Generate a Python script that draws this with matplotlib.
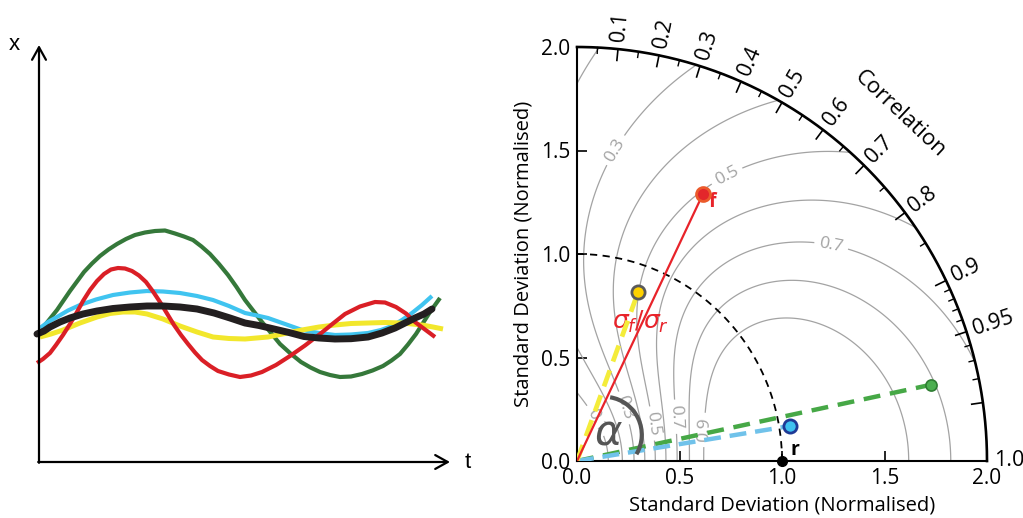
import numpy as np
import matplotlib
matplotlib.use('Agg')
import matplotlib.pyplot as plt
from matplotlib.patches import Arc

plt.rcParams['font.family'] = ['Open Sans', 'DejaVu Sans']
plt.rcParams['mathtext.fontset'] = 'dejavusans'

# ---------------- left panel: time series (t, x) ----------------
black_t = [-2, 5, 11, 21, 31, 44, 58, 74, 91, 108, 124, 141, 158, 175, 191, 206, 220, 235,
           250, 265, 280, 296, 312, 329, 343, 356, 366, 376, 385, 393]
black_x = [128, 131, 135, 140, 144, 148, 151, 153.5, 155, 156, 156, 155, 153, 149, 144, 139,
           136.5, 133, 129.5, 125.5, 124, 123, 123.3, 125, 129, 134, 139, 144, 148, 153]

cyan_t = [1, 9, 18, 29, 41, 57, 74, 91, 108, 124, 141, 158, 174, 190, 206, 218, 229, 246,
          263, 280, 296, 312, 329, 342, 353, 363, 373, 383, 393]
cyan_x = [134, 140, 145, 151.5, 157, 162.5, 167, 169.5, 171, 170.5, 169, 166, 162, 156, 149,
          146.5, 144, 138, 132, 129, 127, 127.5, 129, 132, 136, 142, 149, 157, 166]

yellow_t = [1, 12, 24, 41, 58, 71, 84, 96, 108, 124, 141, 158, 174, 190, 206, 229, 246, 263,
            280, 296, 312, 329, 346, 363, 383, 394, 404]
yellow_x = [125, 128, 132, 139, 145, 148.5, 150, 150, 148, 143, 136, 130, 125, 123.5, 123, 125,
            128.5, 132, 135, 137, 138.5, 139, 139.5, 139, 137, 135, 133]

red_t = [-2, 4, 11, 17, 24, 31, 38, 44, 51, 58, 65, 72, 79, 86, 93, 100, 107, 114, 121, 128,
         135, 142, 149, 156, 163, 171, 179, 190, 201, 212, 223, 237, 251, 266, 281, 294, 306,
         321, 336, 346, 357, 367, 376, 386, 396]
red_x = [99, 103, 109, 117, 127, 138, 150, 161, 172, 181, 188, 192.5, 194, 193.5, 191, 186.5,
         180, 170.5, 160, 148.5, 137, 127, 118, 109.5, 102, 96, 91, 87.5, 85, 86.5, 90, 97, 106,
         116.5, 128, 138.5, 148, 155.5, 160, 159.5, 155, 148.5, 140, 132.5, 125]

green_t = [6, 12, 18, 24.5, 31, 38, 45, 53, 61, 69.5, 78, 87, 96, 106, 116, 126, 136, 145, 154,
           162.5, 171, 180, 189, 197.5, 206, 214.5, 223, 232, 241, 251.5, 262, 271.5, 281, 291,
           301, 312, 323, 333.5, 344, 352.5, 361, 369, 377, 384, 391, 396, 401]
green_x = [137, 144.5, 152, 161.5, 171, 180.5, 190, 198.5, 206, 212.5, 218, 223, 227, 229.5, 231,
           231.5, 228.5, 225.5, 222, 215.5, 208, 198, 187, 175, 162, 151, 140, 129, 118, 108.5,
           100, 94.5, 90, 87, 85, 85.5, 88, 91.5, 96, 101.5, 108, 117.5, 128, 139, 150, 157, 164]

# ---------------- right panel: Taylor diagram ----------------
model_names = ['f', 'yellow', 'green', 'blue']
model_std = [1.427, 0.868, 1.766, 1.053]
model_corr = [0.43, 0.343, 0.978, 0.987]
ref_std = 1.0

std_ticks = [0.0, 0.5, 1.0, 1.5, 2.0]
std_ticklabels = ['0.0', '0.5', '1.0', '1.5', '2.0']
corr_major = [0.1, 0.2, 0.3, 0.4, 0.5, 0.6, 0.7, 0.8, 0.9, 0.95, 0.99]
corr_minor = [0.05, 0.15, 0.25, 0.35, 0.45, 0.55, 0.65, 0.75, 0.85,
              0.91, 0.92, 0.93, 0.94, 0.96, 0.97, 0.98]
corr_labels = [0.1, 0.2, 0.3, 0.4, 0.5, 0.6, 0.7, 0.8, 0.9, 0.95, 1.0]
corr_label_text = ['0.1', '0.2', '0.3', '0.4', '0.5', '0.6', '0.7', '0.8', '0.9', '0.95', '1.0']
skill_levels_labelled = [0.1, 0.3, 0.5, 0.7, 0.9]
skill_levels_plain = [0.2, 0.4, 0.6, 0.8]

fig = plt.figure(figsize=(10.23, 5.18), dpi=100)

# ---- left panel
ax1 = fig.add_axes([0, 0, 470 / 1023, 1])
ax1.set_xlim(-39, 431)
ax1.set_ylim(-56, 462)
ax1.axis('off')
lw_c = 3.0
kw = dict(solid_capstyle='butt', solid_joinstyle='round')
ax1.plot(green_t, green_x, color='#35783a', lw=lw_c, **kw)
ax1.plot(cyan_t, cyan_x, color='#40c4f0', lw=lw_c, **kw)
ax1.plot(yellow_t, yellow_x, color='#f2e72c', lw=lw_c + 0.6, **kw)
ax1.plot(red_t, red_x, color='#da1f26', lw=lw_c, **kw)
ax1.plot(black_t, black_x, color='#231f20', lw=5, solid_capstyle='round', solid_joinstyle='round')
arrow = dict(arrowstyle='->,head_length=0.9,head_width=0.5', lw=1.6, color='k',
             shrinkA=0, shrinkB=0)
ax1.annotate('', xy=(0, 417), xytext=(0, -0.8), arrowprops=arrow)
ax1.annotate('', xy=(411, 0), xytext=(-0.8, 0), arrowprops=arrow)
ax1.text(-25, 417, 'x', fontsize=16, ha='center', va='center', family=['Liberation Sans'])
ax1.text(429, 0, 't', fontsize=16, ha='center', va='center', family=['Liberation Sans'])

# ---- Taylor diagram
ax = fig.add_axes([577 / 1023, 57 / 518, 410 / 1023, 414 / 518])
ax.set_xlim(0, 2)
ax.set_ylim(0, 2)
for s in ['top', 'right']:
    ax.spines[s].set_visible(False)
for s in ['left', 'bottom']:
    ax.spines[s].set_linewidth(1.5)
ax.set_xticks(std_ticks)
ax.set_xticklabels(std_ticklabels)
ax.set_yticks(std_ticks)
ax.set_yticklabels(std_ticklabels)
ax.tick_params(direction='in', length=7, width=1.2, labelsize=15)
ax.tick_params(axis='x', pad=5)
ax.tick_params(axis='y', pad=5)
ax.set_xlabel('Standard Deviation (Normalised)', fontsize=14.5, labelpad=5)
ax.set_ylabel('Standard Deviation (Normalised)', fontsize=14.5, labelpad=5)

# skill score contours
g = np.linspace(0.001, 2, 500)
X, Y = np.meshgrid(g, g)
SIG = np.hypot(X, Y)
RR = X / SIG
S = 1.125 * (1 + RR) ** 2 / (SIG + 1 / SIG) ** 2
S[SIG > 2] = np.nan
ax.contour(X, Y, S, levels=skill_levels_plain, colors='#a3a3a3', linewidths=0.9)
cs = ax.contour(X, Y, S, levels=skill_levels_labelled, colors='#a3a3a3', linewidths=0.9)
ax.clabel(cs, inline=True, fontsize=12.5, fmt='%.1f', colors='#a3a3a3',
          manual=[(0.19, 1.5), (0.73, 1.38), (1.24, 1.04), (0.10, 0.20), (0.226, 0.255),
                  (0.372, 0.182), (0.483, 0.214), (0.624, 0.15)])

# outer arc and correlation ticks
th = np.linspace(0, np.pi / 2, 400)
ax.plot(2 * np.cos(th), 2 * np.sin(th), color='k', lw=1.9, clip_on=False, zorder=5)
for c in corr_major:
    a = np.arccos(c)
    ax.plot([2 * np.cos(a), 1.945 * np.cos(a)], [2 * np.sin(a), 1.945 * np.sin(a)],
            color='k', lw=1.2, clip_on=False, zorder=5)
for c in corr_minor:
    a = np.arccos(c)
    ax.plot([2 * np.cos(a), 1.972 * np.cos(a)], [2 * np.sin(a), 1.972 * np.sin(a)],
            color='k', lw=1.0, clip_on=False, zorder=5)
for c, t in zip(corr_labels, corr_label_text):
    a = np.arccos(c)
    ax.text(2.035 * np.cos(a), 2.035 * np.sin(a), t, rotation=np.degrees(a),
            rotation_mode='anchor', ha='left', va='center', fontsize=15.5, clip_on=False)
ca = np.radians(46.7)
ax.text(2.3 * np.cos(ca), 2.3 * np.sin(ca), 'Correlation', rotation=-43.3,
        rotation_mode='anchor', ha='center', va='center', fontsize=16)

# reference circle
ax.plot(ref_std * np.cos(th), ref_std * np.sin(th), color='k', lw=1.3, dashes=(4, 3))

# model lines and markers
mx = [s * c for s, c in zip(model_std, model_corr)]
my = [s * np.sqrt(1 - c ** 2) for s, c in zip(model_std, model_corr)]
ax.plot([0, mx[2]], [0, my[2]], color='#46a846', lw=3.2, dashes=(3.8, 2.2), zorder=6)
ax.plot([0, mx[3]], [0, my[3]], color='#70c2ea', lw=3.2, dashes=(3.8, 2.0), zorder=6)
ax.plot([0, mx[1]], [0, my[1]], color='#f4ec3a', lw=3.4, dashes=(3.6, 2.0), zorder=6)
ax.plot([0, mx[0]], [0, my[0]], color='#e8232a', lw=1.6, zorder=6)

ax.plot(mx[0], my[0], 'o', ms=10, mfc='#e3262b', mec='#eb5a2b', mew=2, zorder=8)
ax.plot(mx[1], my[1], 'o', ms=9.5, mfc='#ffd200', mec='#5a5a5a', mew=2, zorder=8)
ax.plot(mx[2], my[2], 'o', ms=8, mfc='#4caf50', mec='#2e7d32', mew=1.2, zorder=8)
ax.plot(mx[3], my[3], 'o', ms=9.5, mfc='#3ec1ef', mec='#1e3a96', mew=2, zorder=8)
ax.plot(ref_std, 0, 'o', ms=7, color='k', clip_on=False, zorder=9)

ax.text(1.063, 0.053, 'r', fontsize=14, fontweight='bold', ha='center', va='center')
ax.text(0.658, 1.251, 'f', fontsize=14, fontweight='bold', color='#e8232a', ha='center', va='center')
ax.text(0.17, 0.672, r'$\sigma_f/\sigma_r$', fontsize=18, color='#e8232a', ha='left', va='center')

# angle marker
ax.add_patch(Arc((0.133, 0.127), 0.366, 0.366, theta1=-31, theta2=81, lw=3, color='#555555', zorder=7))
ax.text(0.153, 0.134, r'$\alpha$', fontsize=30, color='#555555', ha='center', va='center', zorder=7)

fig.savefig('out.png', dpi=100)
